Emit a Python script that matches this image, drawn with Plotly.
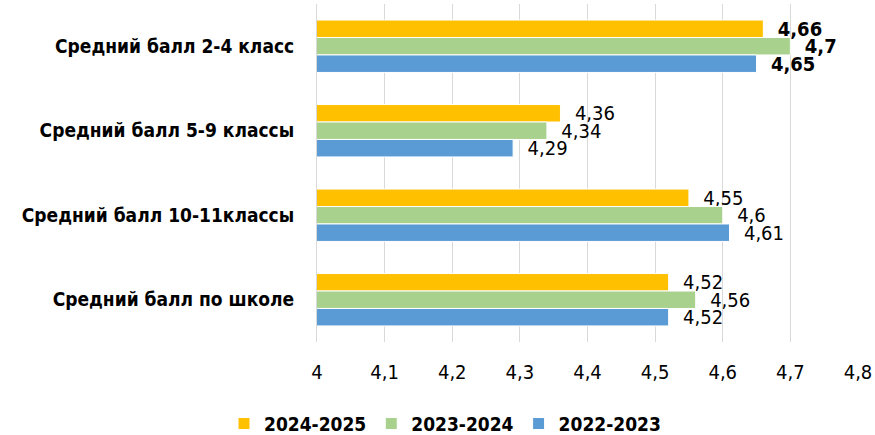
import plotly.graph_objects as go

categories = ["Средний балл 2-4 класс", "Средний балл 5-9 классы",
              "Средний балл 10-11классы", "Средний балл по школе"]
series_names = ["2024-2025", "2023-2024", "2022-2023"]
values_2024_2025 = [4.66, 4.36, 4.55, 4.52]
values_2023_2024 = [4.7, 4.34, 4.6, 4.56]
values_2022_2023 = [4.65, 4.29, 4.61, 4.52]
colors = ["#FFC000", "#A9D18E", "#5B9BD5"]
tick_vals = [4, 4.1, 4.2, 4.3, 4.4, 4.5, 4.6, 4.7, 4.8]
tick_text = ["4", "4,1", "4,2", "4,3", "4,4", "4,5", "4,6", "4,7", "4,8"]

FONT = "DejaVu Sans Condensed, Liberation Sans, sans-serif"

def labels(vals):
    out = []
    for i, v in enumerate(vals):
        s = ("%g" % v).replace(".", ",")
        s = "<b>%s</b>" % s if i == 0 else s
        out.append("\u00a0\u00a0" + s)
    return out

fig = go.Figure()
for name, vals, col in zip(series_names,
                           [values_2024_2025, values_2023_2024, values_2022_2023],
                           colors):
    fig.add_trace(go.Bar(
        y=categories, x=vals, name="<b>%s</b>" % name, orientation="h",
        marker=dict(color=col, line=dict(color="white", width=1)),
        text=labels(vals), textposition="outside", constraintext="none",
        cliponaxis=False,
        textfont=dict(size=20, color="black", family=FONT),
    ))

fig.update_layout(
    width=875, height=435,
    paper_bgcolor="white", plot_bgcolor="white",
    barmode="group", bargap=0.38, bargroupgap=0,
    margin=dict(l=317, r=17, t=4, b=93),
    font=dict(family=FONT, color="black"),
    separators=", ",
    legend=dict(orientation="h", xref="container", yref="container",
                x=0.256, xanchor="left", y=0.026, yanchor="middle",
                font=dict(size=19, family=FONT, color="black"),
                traceorder="normal", itemwidth=30),
    showlegend=True,
)
fig.update_xaxes(range=[4, 4.8], tickvals=tick_vals, ticktext=tick_text,
                 showgrid=True, gridcolor="#D9D9D9", gridwidth=1,
                 zeroline=False, showline=False,
                 tickfont=dict(size=20, family=FONT, color="black"),
                 ticks="", ticklabelstandoff=16)
fig.update_yaxes(autorange="reversed", showgrid=False, zeroline=False,
                 showline=True, linecolor="#D9D9D9", linewidth=1,
                 tickfont=dict(size=19, family=FONT, color="black"),
                 ticks="", ticklabelstandoff=18,
                 tickprefix="<b>", ticksuffix="</b>")

fig.write_html("out.html", config={"displayModeBar": False},
               post_script="document.body.style.margin='0';")
